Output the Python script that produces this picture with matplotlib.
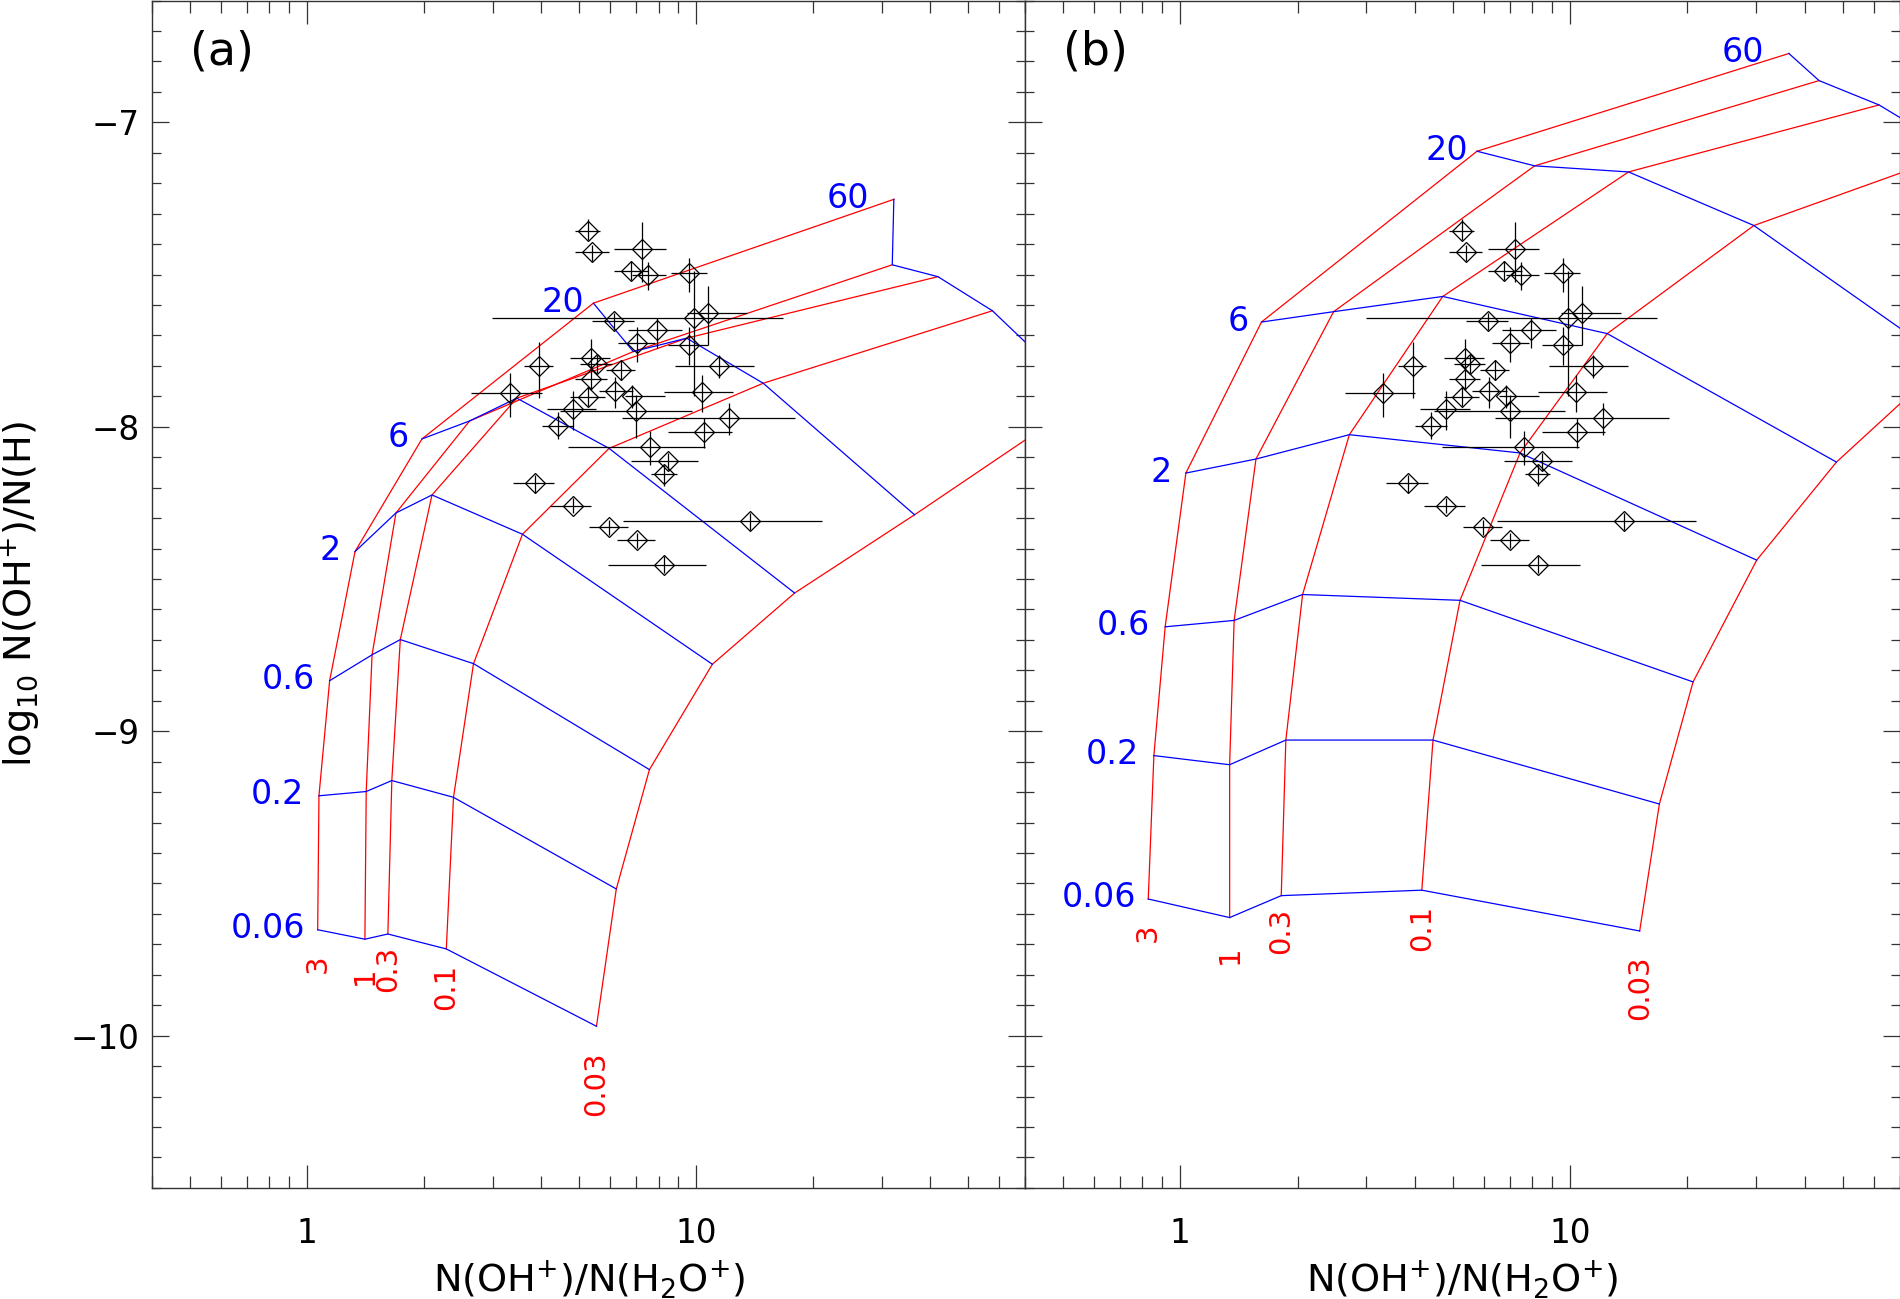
import numpy as np
import matplotlib
matplotlib.use('Agg')
import matplotlib.pyplot as plt
from matplotlib.ticker import LogLocator, MultipleLocator, FuncFormatter, NullFormatter

# labels of the model grid: blue curves (rows) and red curves (columns)
blue_labels = ['0.06', '0.2', '0.6', '2', '6', '20', '60']
red_labels = ['3', '1', '0.3', '0.1', '0.03']

# panel (a) grid nodes, rows follow blue_labels, columns follow red_labels
grid_a_ratio = [
    [1.064, 1.407, 1.612, 2.278, 5.54],
    [1.072, 1.418, 1.650, 2.377, 6.23],
    [1.142, 1.468, 1.735, 2.676, 7.58],
    [1.327, 1.691, 2.093, 3.575, 11.0],
    [1.972, 2.614, 3.458, 5.97, 17.9],
    [5.44, 6.89, 9.45, 14.86, 36.4],
    [32.2, 31.9, 41.8, 57.7, 100.0],
]
grid_a_abund = [
    [-9.652, -9.683, -9.666, -9.715, -9.969],
    [-9.212, -9.198, -9.162, -9.217, -9.518],
    [-8.834, -8.749, -8.699, -8.778, -9.126],
    [-8.410, -8.283, -8.224, -8.353, -8.780],
    [-8.040, -7.981, -7.906, -8.071, -8.546],
    [-7.594, -7.753, -7.709, -7.857, -8.289],
    [-7.253, -7.468, -7.507, -7.619, -7.910],
]

# panel (b) grid nodes
grid_b_ratio = [
    [0.828, 1.339, 1.816, 4.165, 15.08],
    [0.856, 1.339, 1.866, 4.45, 16.94],
    [0.915, 1.375, 2.060, 5.22, 20.67],
    [1.034, 1.564, 2.715, 7.44, 30.1],
    [1.616, 2.474, 4.713, 12.45, 48.2],
    [5.77, 8.11, 14.12, 29.6, 92.4],
    [36.4, 43.5, 62.0, 98.7, 200.0],
]
grid_b_abund = [
    [-9.551, -9.612, -9.540, -9.522, -9.656],
    [-9.080, -9.110, -9.029, -9.029, -9.239],
    [-8.657, -8.636, -8.551, -8.570, -8.838],
    [-8.152, -8.106, -8.026, -8.086, -8.438],
    [-7.656, -7.622, -7.572, -7.694, -8.116],
    [-7.095, -7.143, -7.163, -7.339, -7.784],
    [-6.774, -6.863, -6.943, -7.099, -7.400],
]

# observed sight lines
ratio = [5.28, 5.41, 7.24, 6.78, 7.50, 9.60, 9.89, 10.74, 6.16, 7.94,
         7.03, 9.60, 11.46, 5.37, 5.55, 6.41, 5.37, 6.18, 6.83, 5.28,
         10.36, 4.81, 7.00, 12.16, 10.44, 7.60, 8.48, 8.25, 4.81, 5.98,
         13.76, 7.03, 8.26, 3.32, 3.95, 4.40, 3.85]
ratio_lo = [4.88, 4.88, 6.16, 6.16, 6.83, 8.59, 2.99, 9.45, 5.41, 6.67,
            6.31, 8.48, 8.82, 4.74, 5.03, 5.87, 4.88, 5.61, 6.56, 4.74,
            8.26, 4.13, 4.47, 6.43, 8.48, 4.69, 6.78, 7.65, 4.21, 5.31,
            6.50, 6.24, 5.92, 2.64, 3.61, 4.01, 3.38]
ratio_hi = [5.66, 5.95, 8.34, 7.53, 8.34, 10.63, 16.73, 13.47, 6.92, 9.21,
            7.83, 10.74, 14.07, 6.00, 6.06, 6.96, 5.89, 6.89, 8.31, 5.83,
            12.45, 5.53, 9.73, 17.92, 12.32, 10.53, 10.12, 8.90, 5.37, 6.69,
            21.07, 7.83, 10.59, 4.01, 4.28, 4.83, 4.32]
abund = [-7.357, -7.427, -7.416, -7.488, -7.503, -7.496, -7.643, -7.627, -7.652, -7.682,
         -7.725, -7.731, -7.800, -7.775, -7.794, -7.813, -7.843, -7.881, -7.900, -7.903,
         -7.886, -7.942, -7.948, -7.972, -8.018, -8.068, -8.112, -8.154, -8.259, -8.329,
         -8.311, -8.371, -8.453, -7.890, -7.800, -7.996, -8.185]
abund_lo = [-7.388, -7.457, -7.523, -7.518, -7.550, -7.556, -7.900, -7.731, -7.682, -7.742,
            -7.786, -7.797, -7.840, -7.818, -7.824, -7.846, -7.879, -7.939, -7.939, -7.933,
            -7.950, -8.010, -8.037, -8.026, -8.070, -8.125, -8.141, -8.196, -8.283, -8.354,
            -8.338, -8.398, -8.480, -7.968, -7.906, -8.041, -8.216]
abund_hi = [-7.318, -7.403, -7.329, -7.457, -7.460, -7.446, -7.490, -7.539, -7.627, -7.643,
            -7.671, -7.671, -7.764, -7.712, -7.764, -7.780, -7.802, -7.835, -7.862, -7.870,
            -7.829, -7.884, -7.895, -7.922, -7.972, -8.015, -8.086, -8.125, -8.234, -8.305,
            -8.283, -8.349, -8.426, -7.824, -7.720, -7.950, -8.158]

# label offsets from the nodes, in pixels
blue_dx = [12, 15, 15, 14, 13, 9, 25]
red_dy = [34, 37, 35, 38, 57]

plt.rcParams['font.family'] = 'DejaVu Sans'
plt.rcParams['mathtext.default'] = 'regular'

fig = plt.figure(figsize=(19.0, 12.99), dpi=100)
ax_a = fig.add_axes([0.0802, 0.0855, 0.4593, 0.9141])
ax_b = fig.add_axes([0.5395, 0.0855, 0.4603, 0.9141])

x = np.array(ratio)
y = np.array(abund)
xerr = [x - np.array(ratio_lo), np.array(ratio_hi) - x]
yerr = [y - np.array(abund_lo), np.array(abund_hi) - y]


def draw_panel(ax, gx, gy, tag):
    gx = np.array(gx)
    gy = np.array(gy)

    # red curves run across the blue rows, blue ones across the red columns
    for j in range(gx.shape[1]):
        ax.plot(gx[:, j], gy[:, j], color='red', lw=0.9)
    for i in range(gx.shape[0]):
        ax.plot(gx[i], gy[i], color='blue', lw=0.9)

    for i, lab in enumerate(blue_labels):
        ax.annotate(lab, (gx[i, 0], gy[i, 0]), xytext=(-blue_dx[i], 1),
                    textcoords='offset pixels', ha='right', va='center',
                    color='blue', fontsize=24)
    for j, lab in enumerate(red_labels):
        ax.annotate(lab, (gx[0, j], gy[0, j]), xytext=(0, -red_dy[j]),
                    textcoords='offset pixels', ha='center', va='center',
                    rotation=90, color='red', fontsize=21)

    ax.errorbar(x, y, xerr=xerr, yerr=yerr, fmt='D', ms=10, mfc='none',
                mec='k', mew=0.9, ecolor='k', elinewidth=0.9, capsize=0)

    ax.text(0.08, 0.957, tag, transform=ax.transAxes, ha='center',
            va='center', fontsize=33)

    ax.set_xscale('log')
    ax.set_xlim(0.4, 70)
    ax.set_ylim(-10.5, -6.6)

    ax.xaxis.set_major_locator(LogLocator(base=10, numticks=10))
    ax.xaxis.set_minor_locator(LogLocator(base=10, subs=np.arange(2, 10), numticks=20))
    ax.xaxis.set_major_formatter(FuncFormatter(lambda v, p: '%g' % v))
    ax.xaxis.set_minor_formatter(NullFormatter())
    ax.yaxis.set_major_locator(MultipleLocator(1))
    ax.yaxis.set_minor_locator(MultipleLocator(0.1))

    ax.tick_params(which='both', direction='in', top=True, right=True,
                   width=0.9, color='#333333')
    ax.tick_params(axis='x', which='major', length=16.6, pad=21, labelsize=23.5)
    ax.tick_params(axis='x', which='minor', length=8.4)
    ax.tick_params(axis='y', which='major', length=12.2, pad=9, labelsize=23.5)
    ax.tick_params(axis='y', which='minor', length=6.5)
    for s in ax.spines.values():
        s.set_color('#333333')
        s.set_linewidth(1.0)

    ax.set_xlabel(r'N(OH$^{+}$)/N(H$_{2}$O$^{+}$)', fontsize=27.5)
    ax.xaxis.set_label_coords(0.5, -0.06)


draw_panel(ax_a, grid_a_ratio, grid_a_abund, '(a)')
draw_panel(ax_b, grid_b_ratio, grid_b_abund, '(b)')

ax_a.set_ylabel(r'log$_{10}$ N(OH$^{+}$)/N(H)', fontsize=27.5)
ax_a.yaxis.set_label_coords(-0.126, 0.5)
ax_b.tick_params(axis='y', labelleft=False)

plt.savefig('out.png', format='png', dpi=100)
